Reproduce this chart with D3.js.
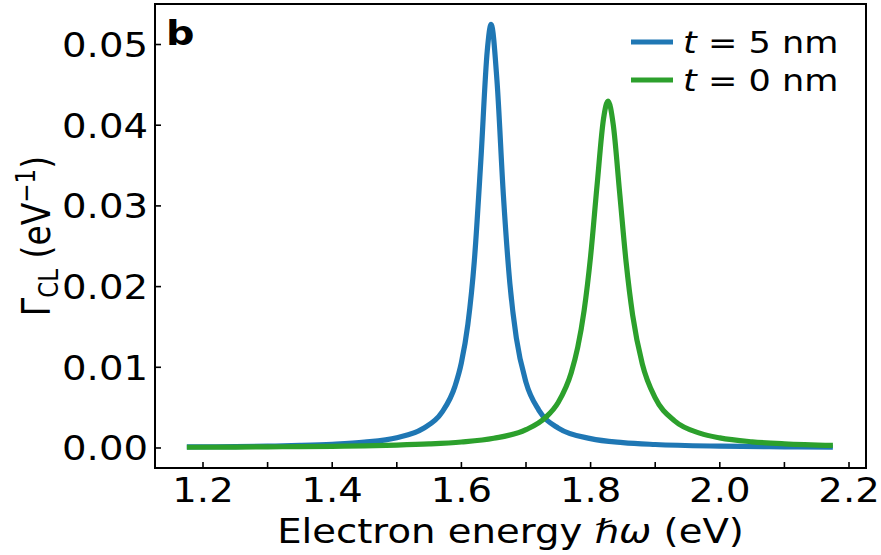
<!DOCTYPE html>
<html><head><meta charset="utf-8">
<script src="https://cdn.jsdelivr.net/npm/d3@7"></script>
<style>body{margin:0;background:#fff}svg{display:block}text{font-family:"DejaVu Sans",sans-serif;fill:#000}</style>
</head><body><svg id="c" width="881" height="555"></svg>
<script>
// Data
const blueX = [1.175,1.25,1.3,1.35,1.4,1.45,1.5,1.54,1.57,1.59,1.60,1.61,1.62,1.63,1.64,1.646,1.655,1.665,1.675,1.685,1.70,1.72,1.75,1.8,1.85,1.9,2.0,2.1,2.175];
const blueY = [0.000126,0.000178,0.000233,0.000318,0.000459,0.00072,0.00128,0.00238,0.00444,0.00764,0.01058,0.01532,0.02317,0.0355,0.0492,0.0525,0.0456,0.0313,0.0204,0.01364,0.00813,0.00467,0.00247,0.00116,0.000665,0.000431,0.000223,0.000136,0.0001];
const greenX = [1.175,1.25,1.3,1.35,1.4,1.45,1.5,1.55,1.6,1.65,1.7,1.73,1.75,1.77,1.78,1.79,1.80,1.81,1.82,1.827,1.835,1.845,1.855,1.865,1.88,1.90,1.93,1.97,2.0,2.05,2.1,2.175];
const greenY = [0.0000908,0.000116,0.000139,0.000169,0.000211,0.000271,0.000359,0.000498,0.000738,0.0012,0.00227,0.00376,0.00567,0.00933,0.01245,0.01706,0.02376,0.03255,0.0408,0.043,0.0401,0.0316,0.023,0.01651,0.01043,0.00621,0.00336,0.00181,0.00125,0.000766,0.000513,0.000317];
const seriesNames = ["t = 5 nm","t = 0 nm"];
const xTicks = [1.2,1.3,1.4,1.5,1.6,1.7,1.8,1.9,2.0,2.1,2.2];
const xTickLabels = [1.2,1.4,1.6,1.8,2.0,2.2];
const yTicks = [0,0.01,0.02,0.03,0.04,0.05];

const SX = 1.17; // horizontal text stretch seen in the picture
const svg = d3.select("#c");
const L=155,R=866,T=4,B=468;
const x = d3.scaleLinear().domain([1.1257,2.2263]).range([L,R]);
const y = d3.scaleLinear().domain([-0.00248,0.05502]).range([B,T]);

function stxt(g, px, py, str, anchor, size){
  return g.append("text").attr("transform",`translate(${px},${py}) scale(${SX},1)`)
    .attr("text-anchor",anchor).attr("font-size",size).text(str);
}

const line = d3.line().x(d=>x(d[0])).y(d=>y(d[1])).curve(d3.curveMonotoneX);
const colors = ["#1f77b4","#2ca02c"];
const data = [d3.zip(blueX,blueY), d3.zip(greenX,greenY)];
data.forEach((d,i)=>{
  svg.append("path").attr("d",line(d)).attr("fill","none").attr("stroke",colors[i])
    .attr("stroke-width",5.2).attr("stroke-linejoin","round").attr("stroke-linecap","butt");
});

// ticks (inward)
const tg = svg.append("g");
xTicks.forEach(v=>{
  tg.append("line").attr("x1",x(v)).attr("x2",x(v)).attr("y1",B).attr("y2",B-6).attr("stroke","#000").attr("stroke-width",1.6);
});
xTickLabels.forEach(v=>{ stxt(tg, x(v), 502, d3.format(".1f")(v), "middle", 33); });
yTicks.forEach(v=>{
  tg.append("line").attr("x1",L).attr("x2",L+6).attr("y1",y(v)).attr("y2",y(v)).attr("stroke","#000").attr("stroke-width",1.6);
  stxt(tg, 148, y(v)+12.5, d3.format(".2f")(v), "end", 33);
});

// frame
svg.append("rect").attr("x",L).attr("y",T).attr("width",R-L).attr("height",B-T)
  .attr("fill","none").attr("stroke","#000").attr("stroke-width",2);

// panel letter
stxt(svg, 166, 45, "b", "start", 34).attr("font-weight","bold");

// axis labels
const xl = svg.append("text").attr("transform",`translate(${(L+R)/2},543) scale(${SX},1)`)
  .attr("text-anchor","middle").attr("font-size",33);
xl.append("tspan").text("Electron energy ");
xl.append("tspan").attr("font-style","italic").text("ℏω");
xl.append("tspan").text(" (eV)");

const yl = svg.append("text").attr("transform",`translate(50,${(T+B)/2}) scale(${SX},1) rotate(-90)`)
  .attr("text-anchor","middle").attr("font-size",33);
yl.append("tspan").text("Γ");
yl.append("tspan").attr("font-size",23).attr("dy",7).text("CL");
yl.append("tspan").attr("dy",-7).text(" (eV");
yl.append("tspan").attr("font-size",23).attr("dy",-13).text("−1");
yl.append("tspan").attr("dy",13).text(")");

// legend
const lg = svg.append("g");
seriesNames.forEach((n,i)=>{
  const ly = 42 + i*38;
  lg.append("line").attr("x1",631).attr("x2",673).attr("y1",ly).attr("y2",ly).attr("stroke",colors[i]).attr("stroke-width",5.2);
  const t = lg.append("text").attr("transform",`translate(683,${ly+11}) scale(${SX},1)`).attr("font-size",30);
  t.append("tspan").attr("font-style","italic").text("t");
  t.append("tspan").text(n.slice(1));
});
</script></body></html>
